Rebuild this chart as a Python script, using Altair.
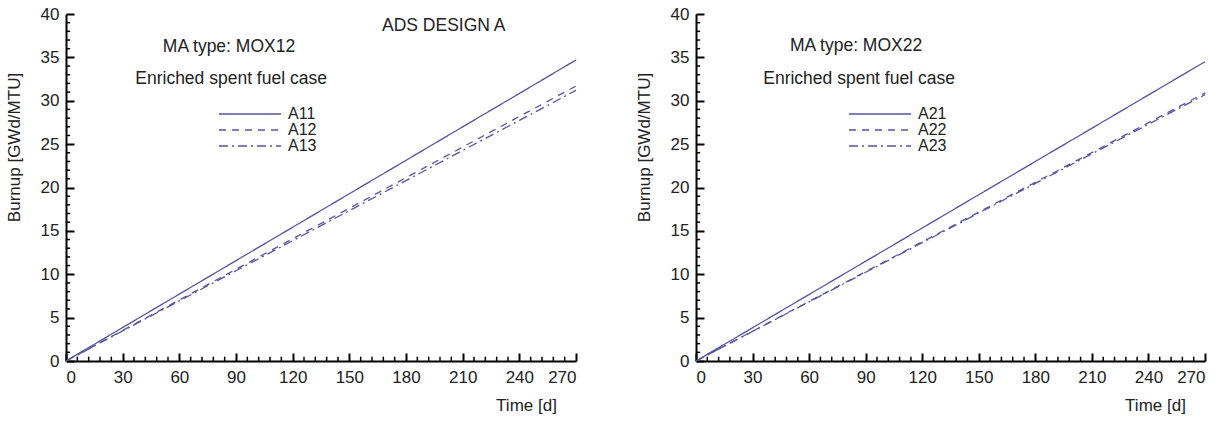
import altair as alt
import pandas as pd

# ---------------- data ----------------
time_d = [0, 30, 60, 90, 120, 150, 180, 210, 240, 270]

names_1 = ["A11", "A12", "A13"]
a11 = [0, 3.86, 7.71, 11.57, 15.42, 19.28, 23.13, 26.99, 30.84, 34.7]
a12 = [0, 3.52, 7.04, 10.57, 14.09, 17.61, 21.13, 24.66, 28.18, 31.7]
a13 = [0, 3.47, 6.93, 10.40, 13.87, 17.33, 20.80, 24.27, 27.73, 31.2]

names_2 = ["A21", "A22", "A23"]
a21 = [0, 3.83, 7.67, 11.50, 15.33, 19.17, 23.00, 26.83, 30.67, 34.5]
a22 = [0, 3.43, 6.87, 10.30, 13.73, 17.17, 20.60, 24.03, 27.47, 30.9]
a23 = [0, 3.41, 6.82, 10.23, 13.64, 17.06, 20.47, 23.88, 27.29, 30.7]

x_major = [0, 30, 60, 90, 120, 150, 180, 210, 240, 270]
x_minor = [6, 12, 18, 24, 36, 42, 48, 54, 66, 72, 78, 84, 96, 102, 108, 114,
           126, 132, 138, 144, 156, 162, 168, 174, 186, 192, 198, 204,
           216, 222, 228, 234, 246, 252, 258, 264]
y_major = [0, 5, 10, 15, 20, 25, 30, 35, 40]
y_minor = [1, 2, 3, 4, 6, 7, 8, 9, 11, 12, 13, 14, 16, 17, 18, 19,
           21, 22, 23, 24, 26, 27, 28, 29, 31, 32, 33, 34, 36, 37, 38, 39]

notes_1_text = ["ADS DESIGN A", "MA type: MOX12", "Enriched spent fuel case"]
notes_1_t = [200.0, 86.3, 87.4]
notes_1_b = [38.6, 36.2, 32.5]

notes_2_text = ["MA type: MOX22", "Enriched spent fuel case"]
notes_2_t = [84.9, 86.5]
notes_2_b = [36.3, 32.5]

# ---------------- style ----------------
FONT = "Liberation Sans"
LINE = "#5454a0"
TXT = "#222222"
DASHES = [[1, 0], [7, 6], [9, 4, 2, 4]]
W1, W2, H = 510, 509, 347
MINOR_X_LEN = 0.5   # minor x-tick length in burnup units (~4 px)
MINOR_Y_LEN = 2.2   # minor y-tick length in days (~4 px)


def panel(names, series, notes_text, notes_t, notes_b, W):
    rows = []
    for n, vals in zip(names, series):
        for t, v in zip(time_d, vals):
            rows.append({"t": t, "b": v, "s": n})
    df = pd.DataFrame(rows)
    xs = alt.Scale(domain=[0, 270], nice=False, zero=False)
    ys = alt.Scale(domain=[0, 40], nice=False, zero=False)

    lines = alt.Chart(df).mark_line(strokeWidth=1.3, color=LINE).encode(
        x=alt.X("t:Q", scale=xs, axis=alt.Axis(
            values=x_major, ticks=True, tickSize={"expr": "-8"}, tickWidth=2,
            tickColor="black", grid=False,
            domainColor="black", domainWidth=2,
            labelFont=FONT, labelFontSize=17, labelColor=TXT, labelPadding=16,
            title="Time [d]", titleFont=FONT, titleFontSize=17, titleFontWeight="normal",
            titleColor=TXT, titleX=W - 50, titleY=44, titleAlign="center",
            titleBaseline="middle")),
        y=alt.Y("b:Q", scale=ys, axis=alt.Axis(
            values=y_major, ticks=True, tickSize={"expr": "-8"}, tickWidth=2,
            tickColor="black", grid=False,
            domainColor="black", domainWidth=2,
            labelFont=FONT, labelFontSize=17, labelColor=TXT, labelPadding=15,
            title="Burnup [GWd/MTU]", titleFont=FONT, titleFontSize=17,
            titleFontWeight="normal", titleColor=TXT, titleX=-52, titleY=133,
            titleAngle=270, titleAlign="center", titleBaseline="middle")),
        strokeDash=alt.StrokeDash("s:N", scale=alt.Scale(domain=names, range=DASHES),
                                  legend=alt.Legend(
                                      orient="none", legendX=176, legendY=92, title=None,
                                      symbolType="M-6.2,0H6.2", symbolSize=100,
                                      symbolStrokeWidth=1.3, symbolStrokeColor=LINE,
                                      labelOffset=30, labelFont=FONT, labelFontSize=16,
                                      labelColor=TXT, rowPadding=0, padding=0)),
    )

    xm = pd.DataFrame({"t": x_minor, "b": [0] * len(x_minor),
                       "b2": [MINOR_X_LEN] * len(x_minor)})
    ym = pd.DataFrame({"t": [0] * len(y_minor), "t2": [MINOR_Y_LEN] * len(y_minor),
                       "b": y_minor})
    rx = alt.Chart(xm).mark_rule(color="black", strokeWidth=1.5).encode(
        x=alt.X("t:Q", scale=xs, axis=None),
        y=alt.Y("b:Q", scale=ys, axis=None), y2="b2:Q")
    ry = alt.Chart(ym).mark_rule(color="black", strokeWidth=1.5).encode(
        x=alt.X("t:Q", scale=xs, axis=None), x2="t2:Q",
        y=alt.Y("b:Q", scale=ys, axis=None))

    ndf = pd.DataFrame({"t": notes_t, "b": notes_b, "label": notes_text})
    text = alt.Chart(ndf).mark_text(font=FONT, fontSize=17.5, color=TXT,
                                     align="center", baseline="middle").encode(
        x=alt.X("t:Q", scale=xs, axis=None),
        y=alt.Y("b:Q", scale=ys, axis=None),
        text="label:N",
    )

    return alt.layer(lines, rx, ry, text).resolve_axis(
        x="independent", y="independent").properties(width=W, height=H)


left = panel(names_1, [a11, a12, a13], notes_1_text, notes_1_t, notes_1_b, W1)
right = panel(names_2, [a21, a22, a23], notes_2_text, notes_2_t, notes_2_b, W2)

chart = alt.hconcat(left, right, spacing=56).resolve_scale(
    strokeDash="independent"
).configure_view(strokeOpacity=0)

chart.save("out.html", embed_options={"renderer": "svg", "actions": False})
